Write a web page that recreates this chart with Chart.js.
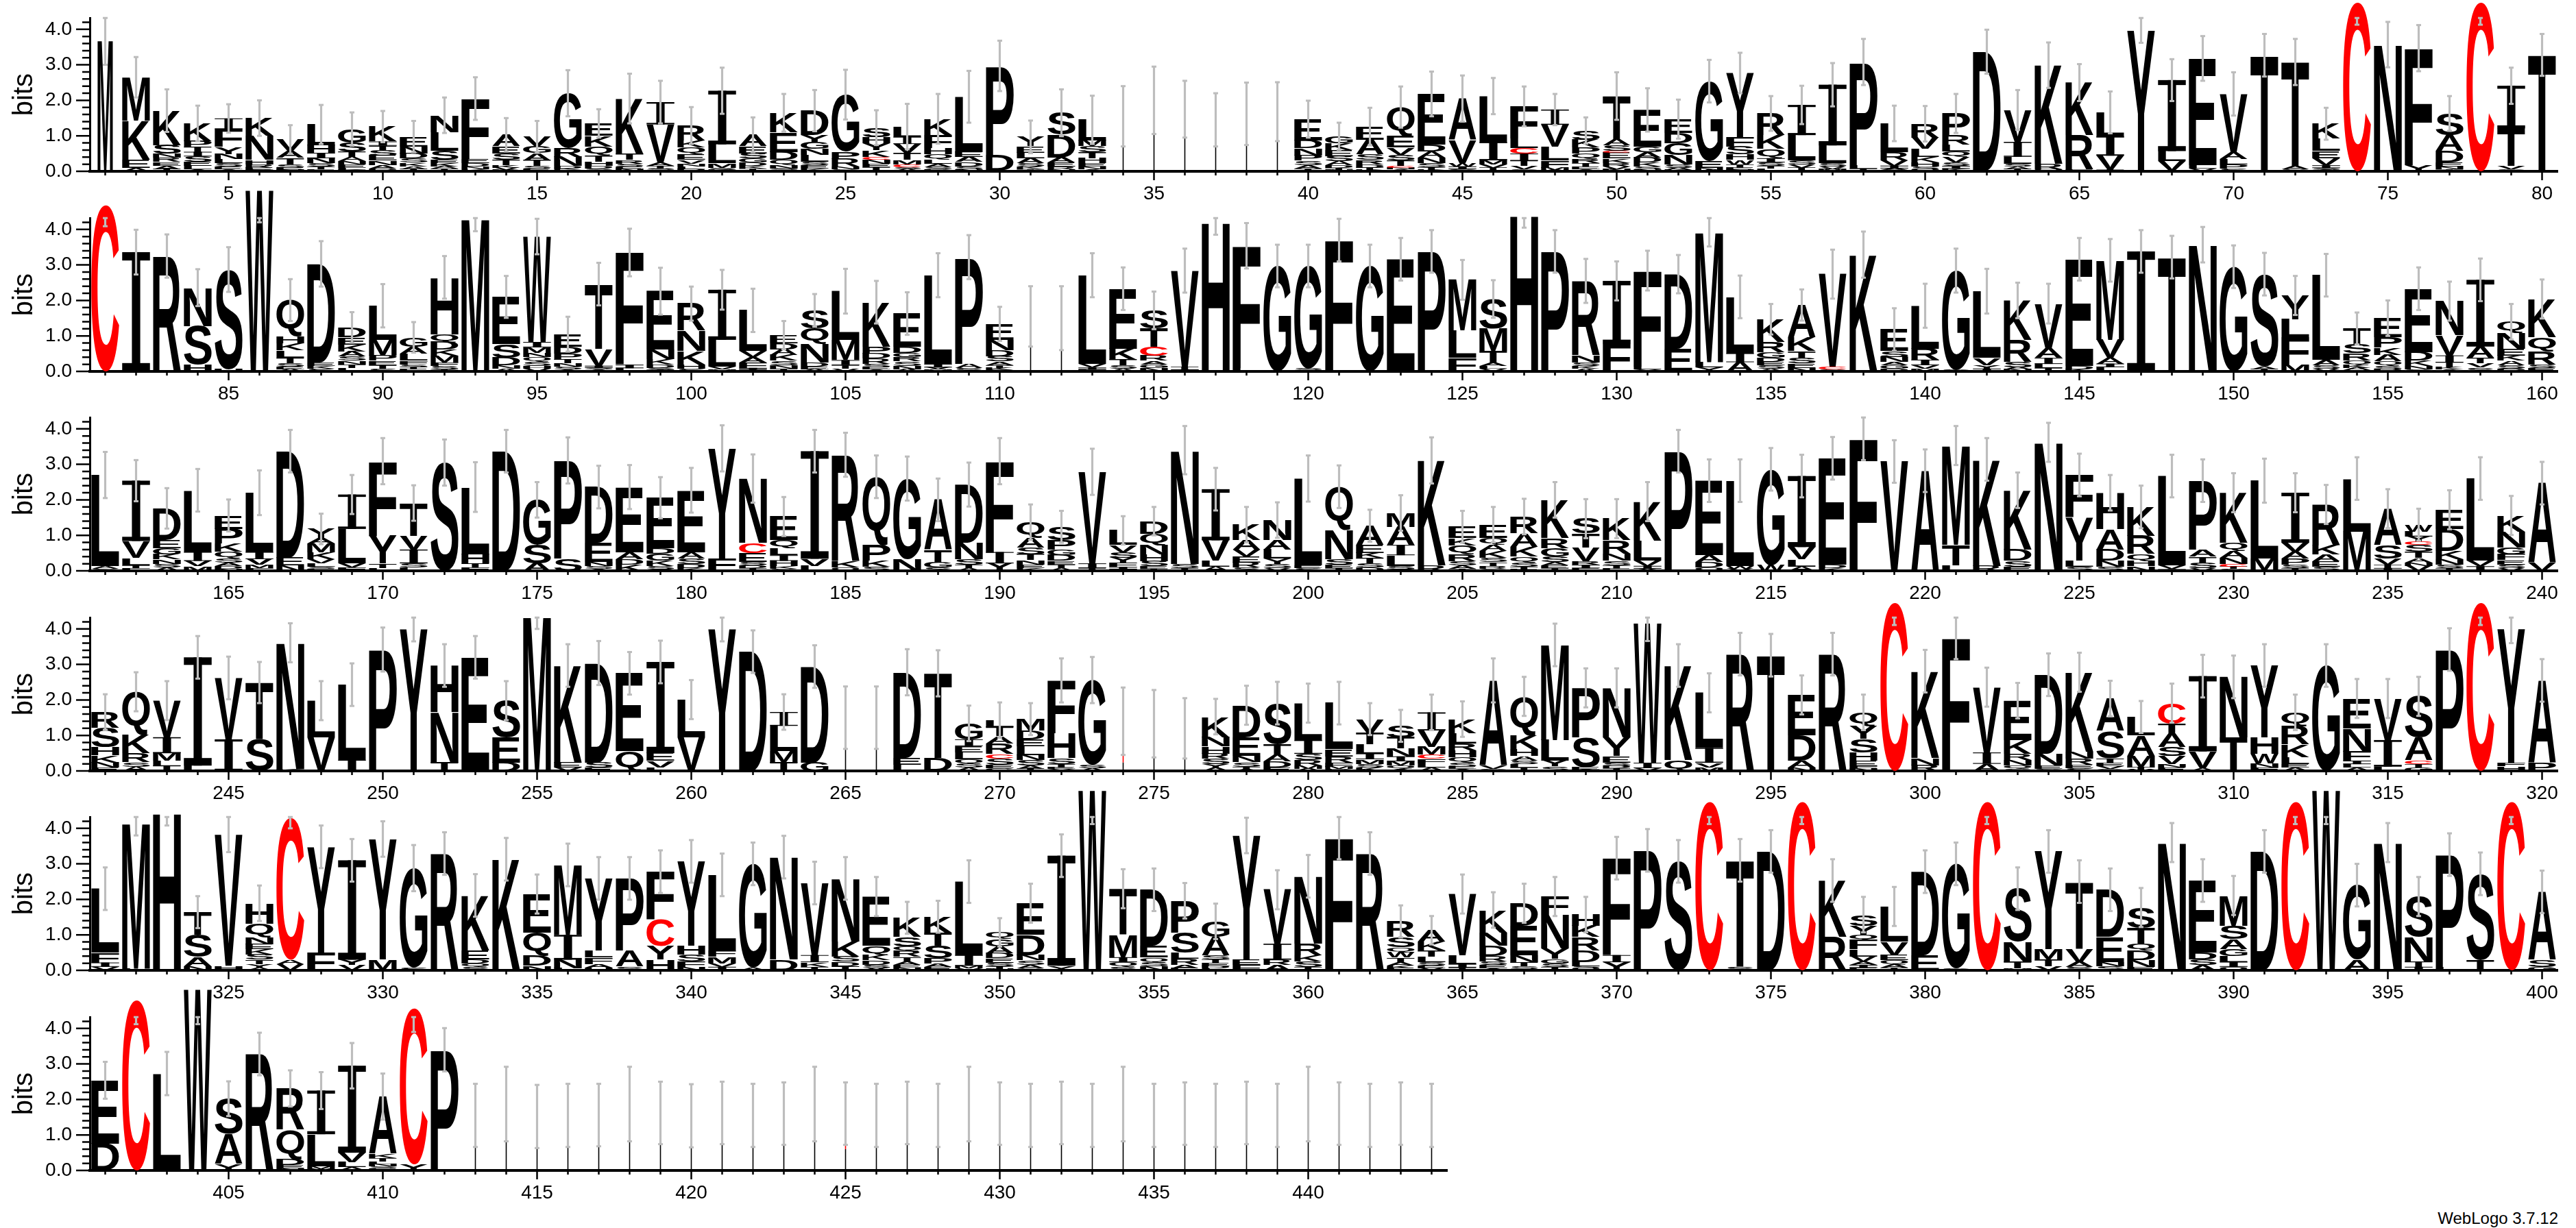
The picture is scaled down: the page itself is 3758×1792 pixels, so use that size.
<!DOCTYPE html>
<html>
<head>
<meta charset="utf-8">
<script src="https://cdn.jsdelivr.net/npm/chart.js@4.4.1/dist/chart.umd.min.js"></script>
<style>
  body { margin: 0; background: #fff; width: 3758px; height: 1792px; position: relative; overflow: hidden; }
  canvas { position: absolute; left: 0; }
  #credit { position: absolute; right: 26px; top: 1764px; font: 24px "Liberation Sans", Arial, sans-serif; color: #000; }
</style>
</head>
<body>
<div id="credit">WebLogo 3.7.12</div>
<script>
// each stack: letters listed top -> bottom, letter followed by its height in bits
const rowStarts = [1, 81, 161, 241, 321, 401];
const yMax = 4.32;
const yMajorTicks = [0, 1, 2, 3, 4];
const yMinorTicks = [0.2, 0.4, 0.6, 0.8, 1.2, 1.4, 1.6, 1.8, 2.2, 2.4, 2.6, 2.8, 3.2, 3.4, 3.6, 3.8, 4.2];
const letterColors = { C: '#ff0000' };
// columns drawn narrower (mostly gaps in the alignment)
const colWidth = {
  1: 0.55, 34: 0.06, 35: 0.06, 36: 0.06, 37: 0.06, 38: 0.06, 39: 0.06,
  111: 0.06, 112: 0.06, 265: 0.06, 266: 0.06, 274: 0.06, 275: 0.06, 276: 0.06,
  413: 0.06, 414: 0.06, 415: 0.06, 416: 0.06, 417: 0.06, 418: 0.06, 419: 0.06, 420: 0.06,
  421: 0.06, 422: 0.06, 423: 0.06, 424: 0.06, 425: 0.06, 426: 0.06, 427: 0.06, 428: 0.06,
  429: 0.06, 430: 0.06, 431: 0.06, 432: 0.06, 433: 0.06, 434: 0.06, 435: 0.06, 436: 0.06,
  437: 0.06, 438: 0.06, 439: 0.06, 440: 0.06, 441: 0.06, 442: 0.06, 443: 0.06, 444: 0.06
};

const row1Stacks = [
  "M3.7", "M1.23K1.1E.22A.1", "K.97S.24N.12R.12E.1A.1T.06", "K.5P.16T.14I.13S.15E.12L.1A.05", "I.3F.5Y.2N.14L.12S.1E.08A.05", "K.5N.68H.12R.1E.06S.04", "V.32A.2T.18S.1E.06N.04", "L.58H.22I.15N.14S.1T.08E.05", "G.39S.25T.14A.12N.1E.1L.05K.04", "K.42I.12T.12S.15E.15N.12A.1D.08",
  "E.28N.2D.14S.12K.1A.08T.06", "N.48L.52S.25E.1K.09A.07T.07", "F1.7E.12D.1N.08K.05", "A.32E.2S.18T.15K.08V.06D.04", "V.26G.2A.2T.16S.08E.05N.02", "G1.55R.24N.26D.08K.04S.03", "E.35K.3Q.25T.18H.12D.08S.05A.02", "K1.57T.16R.1S.08E.08N.06", "I.63V1.06A.1T.08S.05L.03", "R.42K.2Q.2E.15V.1N.08L.08D.06",
  "I1.51L.53M.13S.06K.04", "A.32E.2S.14G.12D.1K.08T.05R.02", "K.55E.55D.22Q.15N.1S.05R.03", "D.68Y.2G.2N.16L.2S.1E.1K.07", "G1.61P.2R.22N.08S.05", "S.26H.18Y.2K.18C.08N.12E.1T.08D.03", "L.29I.2V.25T.2M.12C.08S.06A.06", "K.45F.38H.16Q.16L.12A.1S.06D.05", "L1.55E.15A.14D.13S.08N.05", "P2.5D.45E.02",
  "Y.26E.18L.16A.14S.1K.08T.05", "S.62D.64A.14E.12R.08N.05", "L.58M.16S.18T.16H.14E.1N.08A.05", "L1.55", "L2.0", "L1.75", "L1.45", "L1.62", "L1.68", "E.6D.22N.2P.15S.12A.1T.08",
  "G.2K.2E.16S.14A.12D.08T.05N.04", "E.37A.42S.15R.12D.1T.06K.04", "Q.82E.32V.2S.16T.15C.06N.05A.05", "E1.42D.2A.17N.15S.12T.08K.04", "A1.16V.65W.1I.08S.06", "L1.29I.52M.12V.1T.06F.03", "F.91L.26C.16I.2T.14V.1S.06", "I.43V.62L.39F.2M.06A.04", "S.26K.22P.16Q.15R.13T.1E.08A.05", "T1.23A.16S.15C.06E.16K.12R.1V.08N.06",
  "E1.03G.16A.15D.14K.12S.08N.05", "E.39D.29G.33N.26S.1A.06K.04", "G2.25E.2N.05W.04", "Y1.82F.26S.22H.15W.12T.1E.06N.04", "R.61K.39Q.26I.12S.1T.08L.07", "I.85L.71S.12V.1T.06A.03", "I1.71L.49S.1V.08M.06", "P2.9L.1T.08", "L.81R.23V.15I.08A.05S.03", "R.39V.32L.22K.15H.12S.08Q.06",
  "P.61R.26L.2Q.16V.15S.1I.08K.07", "D3.35E.02", "V.9I.42L.2S.08A.07T.06", "K2.78R.15Q.06", "K1.48R.97E.05", "L.67I.55V.39T.05", "Y3.97", "I2.0L.29V.26A.02", "E3.0L.1V.08", "V1.64A.2L.14P.13S.07",
  "T3.25A.02", "T2.93A.1S.05", "K.42L.35E.2V.2I.08S.05A.04", "C4.76", "N3.57", "F3.3Y.17", "S.61A.45D.32E.12N.08T.05", "C4.76", "I1.2T1.06V.1S.05", "T3.28"
];
const row1Err = [
  .7, .57, .6, .5, .4, .5, .4, .55, .47, .44,
  .44, .5, .6, .47, .45, .65, .4, .7, .6, .52,
  .65, .49, .53, .58, .7, .49, .64, .7, .73, .71,
  .46, .66, .68, .85, .95, .8, .75, .88, .83, .52,
  .38, .53, .58, .63, .65, .51, .56, .44, .37, .67,
  .61, .55, .6, .57, .49, .54, .61, .65, .5, .5,
  .55, .62, .56, .64, .52, .59, .35, .59, .63, .61,
  .6, .65, .45, .63, .64, .65, .49, .63, .51, .59
];

const row2Stacks = [
  "C4.69", "I3.36", "R3.25", "N1.08S1.09H.19", "S2.81H.06", "W5.1", "Q1.02H.2K.2L.2T.15S.1E.08A.06", "D2.77E.1K.08S.08", "D.28E.2K.2A.14S.12N.1T.1L.1", "L.96M.44P.15E.12T.1S.08",
  "G.26A.2L.2F.1S.08T.06E.06", "H1.6Q.22D.22K.16M.2F.1S.1T.05", "M4.3", "E1.33S.38D.22N.1A.07", "W2.97I.15M.15N.13Q.12S.12H.08V.08", "E.35D.2P.15T.12N.1S.08A.05", "T1.82V.48I.06S.05A.05", "F3.16I.1L.09", "E1.65N.26K.15D.1S.06T.04", "R.76N.58K.38H.12S.07",
  "I1.41L.76V.08M.05", "L1.15V.17A.15F.15I.05T.05", "E.22D.18A.16K.16S.12N.1T.08", "S.51Q.44N.51D.12E.08A.06", "L1.37M.57I.14T.1V.08", "K1.25P.19D.15R.15S.1E.06A.05", "E.93D.18G.12R.12S.12N.1A.06", "L2.5I.1V.06M.05", "P3.0A.12S.1", "E.45N.29D.18S.14A.1T.08K.06G.04",
  "L1.55", "L1.5", "L2.5V.1I.06F.05", "E1.69K.31T.16S.1A.07", "S.51T.51C.26R.14A.1G.1N.1", "V2.7T.08I.06", "H4.2", "F3.45L.09", "G2.97", "G2.9S.04A.03",
  "F3.7", "G2.97", "E3.16", "P3.38", "M1.43L.77F.38", "S.83M.64T.32A.1L.08V.07", "H4.4", "P3.38", "R2.1N.2S.1K.08A.07", "I1.78F.77",
  "F2.7L.09Y.05", "D2.1E.64", "M3.66L.14Y.12", "L1.59I.25A.26", "K.64R.29G.15D.12E.1S.1A.07", "A.91K.39T.2S.15E.12N.1", "V2.61C.08S.05", "K3.29", "E.61S.16N.14A.1G.1D.07", "L1.21R.31I.15V.1M.08",
  "G2.8S.04", "L1.88V.2Y.1I.08", "K1.11R.63S.14A.06N.06", "V1.27A.26I.17L.11T.1", "E3.0D.1K.06", "M2.24V.51A.16I.1L.12", "I3.38", "T3.22", "N3.57", "G2.95",
  "S2.6A.08T.06", "Y.67L.51F.77M.19", "L2.39A.14S.1V.08", "T.44S.26R.2Q.12K.1A.06E.03", "E.54P.29K.2A.19Q.12S.1D.06", "E1.79D.24K.15N.1S.05", "N.96V.57I.2T.14K.06A.05", "I1.88A.32T.15V.12S.11", "Q.32N.44E.2K.14A.12S.1D.08", "K1.08Q.39R.38S.1E.09"
];
const row2Err = [
  .6, .63, .61, .52, .63, .9, .59, .64, .43, .61,
  .43, .6, .35, .59, .5, .49, .6, .67, .66, .48,
  .56, .61, .4, .46, .63, .6, .6, .62, .62, .48,
  .85, .9, .62, .6, .53, .62, .35, .64, .6, .6,
  .6, .6, .6, .6, .56, .53, .35, .6, .62, .55,
  .56, .54, .4, .6, .43, .44, .69, .65, .6, .62,
  .62, .63, .5, .56, .6, .6, .6, .6, .5, .6,
  .6, .55, .6, .45, .5, .6, .55, .6, .5, .55
];

const row3Stacks = [
  "L2.57A.08S.05", "I1.7V.48L.2T.08F.08", "D.9E.22G.18K.14N.12S.1A.1", "L1.74I.25V.15M.13", "E.38P.41K.22Q.2S.12A.1D.08N.05", "L1.67I.2V.16M.1F.07", "D3.0E.22N.15", "Y.26A.14M.25K.2V.12L.1S.06E.05", "I.97L.97V.12F.09", "F2.1Y.78T.13L.08",
  "T.92V.39I.39S.12L.09", "S3.05", "L1.89H.26T.12F.09", "D3.37", "G1.27S.52A.21", "P2.77S.34", "D1.57E.53N.13S.08A.05", "E1.83A.2D.15K.18", "E1.43D.15G.2K.14S.1A.04", "E1.74A.18S.15D.12K.08",
  "Y3.1F.35", "N1.81C.29E.24S.1D.08T.08", "E.67Q.22L.2I.16H.14K.08S.06", "I3.03V.2L.14", "R3.0K.17Q.1", "Q1.92P.45K.16S.12", "G2.27N.33", "A1.42T.34G.14S.1", "D1.64N.46S.15T.1A.08", "F2.56I.32Y.21",
  "Q.45A.26S.2T.16N.12E.1K.08", "S.38P.26G.16D.16E.1T.1A.08", "V2.58I.13T.08", "L.41V.2S.16Y.14F.12I.07A.04", "D.35Q.32N.26H.2S.14E.08T.05", "N3.2S.12T.08", "I1.44V.58L.16A.12", "K.44A.26V.2E.16R.14S.1", "N.57A.26L.26Y.14S.12V.08", "L2.45E.08S.07",
  "Q1.23N.82S.14E.1T.08", "A.54E.23K.14T.14S.12D.1", "M.39A.51I.29L.3S.1T.04", "K2.96R.15", "E.32K.2Q.25R.2S.12A.1T.05", "E.38Q.2A.16K.2S.12T.1R.08G.06", "R.48A.38K.26Q.17S.12T.08E.04", "K1.08R.28G.23S.16A.1E.08T.07", "S.42T.39V.39R.1I.1E.07", "K.61R.38N.2S.12T.1E.06",
  "K1.1L.56V.15I.08Y.06", "P3.37", "E2.1A.2D.14Q.1", "L2.4W.08V.06", "G2.7W.16", "I2.0V.35L.2A.12", "E3.0D.1K.07", "F3.72", "V3.08", "A2.82",
  "M2.8T.58L.15", "K3.0R.14", "K1.67D.32S.16E.12", "N3.62", "F1.2Y1.22L.16S.12", "H1.02A.58D.32N.16S.12", "K.82R.51Q.2H.14N.13", "L2.52V.1I.05", "P1.94A.2T.18S.14V.08", "K1.41Q.23A.2N.16C.08T.07S.05",
  "L2.2M.34", "I1.41V.25A.2P.16S.1T.08", "R1.14K.26A.2E.15S.12", "L1.49M1.11", "A1.02S.39V.16T.1I.08", "W.19L.14Y.14C.09S.2T.18A.12N.1V.14", "E.55D.61K.23N.15S.1T.08", "L2.32V.15I.13", "K.45N.45G.2F.16E.12S.1V.08", "A2.26V.21"
];
const row3Err = [
  .65, .58, .57, .6, .45, .63, .6, .43, .55, .65,
  .5, .65, .7, .6, .5, .65, .6, .62, .58, .63,
  .65, .68, .55, .6, .62, .6, .62, .6, .62, .65,
  .5, .45, .65, .4, .4, .68, .6, .5, .5, .65,
  .6, .45, .5, .65, .45, .5, .5, .5, .55, .55,
  .55, .6, .6, .6, .6, .6, .6, .6, .6, .6,
  .55, .6, .5, .55, .6, .5, .6, .6, .6, .55,
  .62, .55, .55, .6, .55, .45, .55, .6, .55, .6
];

const row4Stacks = [
  "R.45S.55H.22K.2N.14E.1", "Q1.22K.51R.25S.13A.12", "V1.03I.45M.22L.14T.14", "I3.05L.15", "V1.73I.89", "T1.6S.89", "N3.56K.05", "L1.03V.95", "L2.12I.31", "P3.42",
  "Y4.0", "H1.31N1.42T.24", "E3.2", "S1.03E.71D.24", "M4.35", "K2.73E.14V.1", "D2.8S.14E.1", "E2.19Q.56", "I2.57E.22V.18L.1", "L1.06V.95",
  "Y4.0", "D3.36", "I.39L.71M.32T.24", "D2.7G.24", "L1.5", "L1.5", "D2.41E.2L.17", "T2.38D.37", "G.45I.19E.17L.2Q.12S.12A.09", "L.19T.26A.2R.3C.13S.18E.1G.07",
  "M.32D.25E.2L.25N.14S.14A.1T.06", "F1.49H.7S.16T.1E.05Y.05", "G2.38S.1A.08", "L.9C.26S.24", "L1.33", "L1.2", "K.58N.26H.2R.15S.14Y.1A.1", "D.9E.52N.18S.13T.08A.04", "S1.15T.3A.2D.16E.1", "L1.04I.39S.18R.14M.1A.06",
  "L1.3E.2R.18F.12M.06D.05", "V.39T.32L.26I.16M.13S.1K.1", "S.32T.32N.22I.14M.12Q.1A.05", "I.51V.46M.22C.12F.12L.12A.1", "K.39L.29R.2H.19Q.15S.12E.07A.05", "A2.39V.1S.06", "Q1.1K.39H.19A.13S.1L.1T.09", "M2.68L.58Y.16S.13", "P1.4S.84E.06A.04", "N1.4Y.52E.18S.1D.07T.07",
  "W3.93I.15V.08", "K2.67Q.3", "L1.55I.42V.13M.1", "R3.29", "T3.26", "E1.14D.71A.2N.09", "R3.29", "Q.39Y.36S.39H.23E.14F.08N.06", "C4.74", "K2.45N.2R.16",
  "F3.75", "V1.84I.32A.2", "E1.11K.39R.18N.14Q.1S.06", "D2.23N.32E.1S.06", "K2.23N.2R.18E.1S.07", "A.91S.77T.12E.1V.08G.06", "L.52A.58M.32T.06V.04", "C.58T.26A.39S.26V.22N.1E.1", "I2.12V.48A.07", "N1.71T.94",
  "Y2.03H.46W.26N.12F.1", "Q.39R.52K.35L.2E.1A.09", "G2.97", "E.84N.65F.26I.1L.1A.09", "V1.17I.75L.12", "S1.16A.64C.1T.1G.1", "P3.42", "C4.74", "Y3.77F.1H.13", "A2.32P.23"
];
const row4Err = [
  .5, .55, .55, .6, .6, .58, .55, .55, .6, .62,
  .35, .6, .6, .55, .35, .6, .62, .6, .6, .55,
  .35, .6, .5, .6, .88, .88, .65, .65, .5, .5,
  .45, .62, .65, .95, .95, .85, .5, .55, .6, .55,
  .6, .45, .45, .5, .5, .62, .55, .6, .55, .55,
  .5, .6, .55, .6, .6, .55, .6, .5, .63, .6,
  .6, .55, .5, .6, .55, .5, .45, .55, .6, .6,
  .6, .5, .6, .55, .55, .55, .6, .63, .4, .6
];

const row5Stacks = [
  "L1.8F.28I.12V.1", "M4.1L.05", "H4.43", "T.64S.63A.25N.12", "V3.7H.13", "H.57Q.38N.2E.15K.15S.14T.12Y.1A.08", "C4.0A.12V.18", "Y2.98F.5", "I2.8Y.15V.15", "Y3.4M.3",
  "G2.8S.08", "R3.29", "K1.55E.25D.12Q.1S.09", "K3.13", "E1.08Q.64D.3N.13", "M1.97I.7N.24L.06", "Y2.03L.2F.18A.1H.08", "P2.03A.45S.11", "F1.33C.76Y.39H.3", "Y2.38H.25S.2F.14N.1",
  "L2.13F.18M.18V.1I.1", "G2.92A.08", "N2.89D.3", "V2.03I.2K.13T.1", "N1.78K.42S.15D.12T.12", "E1.39Q.26K.15D.12S.1A.06", "K.54S.26Q.14R.16T.12A.1E.08N.08", "K.44T.38S.35P.14A.1E.1", "L2.07I.3M.08V.05", "Q.19G.2A.2D.14E.12S.1T.08N.04",
  "E.89D.57N.15S.12A.1G.06", "I3.1Y.13", "W5.07", "T1.3M.63I.14Q.13S.1", "D1.58E.32Q.14S.12N.11", "P.89S.57L.18R.16A.1E.06", "G.44A.51S.12T.1E.1D.06L.05", "Y3.5E.15F.15", "V1.52I.45R.15A.15", "N1.9R.32K.18S.15T.1",
  "F3.73", "R3.29", "R.44S.29Q.14W.15T.12A.1K.08E.06", "A.32K.25T.18L.14S.1E.08V.06", "V1.72L.25I.1T.08", "K.63N.38D.29R.15S.1E.1A.05", "D.63E.83N.2T.12S.07Q.04", "F.51N.95Y.3G.12S.1T.1", "H.31K.32R.38D.32L.12S.07Q.05", "F2.73I.2Y.23",
  "P3.38", "S3.07", "C4.75", "T3.0S.1", "D3.35", "C4.75", "K1.59R.94", "S.31Y.25Q.16F.26L.2V.14A.1I.08E.07", "L.99V.38E.14Q.12A.1T.07", "D2.35E.43",
  "G2.95S.05", "C4.75", "S1.49N.57T.19M.05", "Y2.76M.29T.19V.11", "T1.88V.38A.14S.1", "D1.33E.7N.12S.12", "S.58T.44Q.2D.26N.2E.09", "N3.6", "E2.03D.2S.15A.15", "M.85S.38A.28G.2L.16I.14Q.1",
  "D3.35", "C4.75", "W5.07", "G2.1A.3", "N3.6", "S1.14N.7T.14I.1", "P3.16L.1", "S2.42T.3", "C4.75", "A1.91S.2G.1"
];
const row5Err = [
  .6, .35, .35, .45, .5, .5, .3, .6, .6, .5,
  .65, .6, .6, .6, .55, .6, .6, .6, .6, .6,
  .6, .6, .6, .6, .6, .55, .45, .45, .6, .4,
  .55, .6, .95, .55, .6, .5, .5, .5, .55, .6,
  .6, .6, .45, .4, .55, .5, .55, .55, .5, .6,
  .6, .6, .63, .6, .6, .63, .6, .5, .55, .6,
  .6, .63, .6, .6, .6, .6, .55, .55, .6, .55,
  .6, .63, .95, .6, .55, .55, .6, .6, .63, .6
];

const row6Stacks = [
  "E1.78D.76", "C4.8", "L2.73", "W5.1", "S1.0A.84Y.18", "R3.28", "R1.16Q.84D.16E.1N.05", "I1.23L.9M.08V.04", "I2.45V.26L.14A.1", "A1.61K.12T.1L.08N.06S.06E.05",
  "C4.4Y.17", "P3.4", "L1.55", "L1.87", "L1.52", "L1.55", "L1.56", "L1.87", "L1.62", "L1.54",
  "L1.62", "L1.55", "L1.6", "L1.87", "L.9C.1S.6", "L1.55", "L1.62", "L1.55", "L1.87", "L1.6",
  "L1.55", "L1.62", "L1.55", "L1.87", "L1.55", "L1.6", "L1.55", "L1.62", "L1.55", "L1.87",
  "L1.6", "L1.55", "L1.6", "L1.55"
];
const row6Err = [
  .52, .68, .61, .98, .49, .6, .51, .52, .64, .65,
  .67, .61, .89, 1.05, .89, .89, .88, 1.05, .88, .89,
  .88, .89, .88, 1.05, .88, .89, .88, .89, 1.05, .88,
  .89, .88, .89, 1.05, .89, .88, .89, .88, .89, 1.05,
  .88, .89, .88, .89
];

const FONT = '"Liberation Sans", Arial, sans-serif';
const GLYPH_FONT = 'bold 200px "Liberation Sans", Arial, sans-serif';
const BIT_PX = 51.8;      // pixels per bit
const ZERO_Y = 300;       // baseline inside each row canvas
const COL_W = 45;         // pixels per position

function parseStack(s) {
  const out = [];
  s.replace(/([A-Z])(\d*\.?\d+)/g, (m, ch, h) => { out.push({ ch, h: parseFloat(h) }); return m; });
  return out.reverse(); // bottom first
}

const metricsCache = {};
function drawGlyph(ctx, ch, left, top, w, h, color) {
  if (h < 0.3) return;
  ctx.save();
  ctx.fillStyle = color;
  if (w < 4) {
    // nearly-empty column: the squeezed letter reads as a hairline
    ctx.fillRect(left + w / 2 - 0.8, top, 1.6, h);
  } else if (ch === 'I') {
    // logo "I" has full-width serifs
    const bar = Math.max(1, h * 0.07);
    const stem = w * 0.3;
    ctx.fillRect(left, top, w, bar);
    ctx.fillRect(left, top + h - bar, w, bar);
    ctx.fillRect(left + (w - stem) / 2, top, stem, h);
  } else {
    ctx.font = GLYPH_FONT;
    ctx.textAlign = 'left';
    ctx.textBaseline = 'alphabetic';
    let m = metricsCache[ch];
    if (!m) {
      const t = ctx.measureText(ch);
      m = metricsCache[ch] = {
        l: t.actualBoundingBoxLeft, r: t.actualBoundingBoxRight,
        a: t.actualBoundingBoxAscent, d: t.actualBoundingBoxDescent
      };
    }
    ctx.translate(left, top);
    ctx.scale(w / (m.l + m.r), h / (m.a + m.d));
    ctx.fillText(ch, m.l, m.a);
  }
  ctx.restore();
}

function logoPlugin(row, totals) {
  return {
    id: 'logo' + row.start,
    beforeDatasetsDraw(chart) {
      const { ctx, scales: { x, y } } = chart;
      const band = x.getPixelForValue(1) - x.getPixelForValue(0);
      row.stacks.forEach((s, i) => {
        const pos = row.start + i;
        const w = band * 0.9 * (colWidth[pos] || 1);
        const cx = x.getPixelForValue(i);
        let cum = 0;
        parseStack(s).forEach(({ ch, h }) => {
          const yb = y.getPixelForValue(cum);
          const yt = y.getPixelForValue(cum + h);
          drawGlyph(ctx, ch, cx - w / 2, yt, w, yb - yt, letterColors[ch] || '#000');
          cum += h;
        });
      });
    },
    afterDatasetsDraw(chart) {
      const { ctx, scales: { x, y } } = chart;
      ctx.save();
      ctx.fillStyle = '#bdbdbd';
      row.err.forEach((e, i) => {
        const cx = x.getPixelForValue(i);
        const lo = totals[i] - e;
        const hi = Math.min(totals[i] + e, yMax);
        [lo, hi].forEach(v => {
          if (v <= yMax) ctx.fillRect(cx - 3.5, y.getPixelForValue(v) - 1.5, 7, 3);
        });
      });
      ctx.restore();
    },
    afterDraw(chart) {
      const { ctx, chartArea, scales: { x, y } } = chart;
      ctx.save();
      ctx.strokeStyle = '#000';
      ctx.lineWidth = 2.5;
      ctx.beginPath();
      yMajorTicks.forEach(v => {
        const py = y.getPixelForValue(v);
        ctx.moveTo(chartArea.left - 20, py); ctx.lineTo(chartArea.left, py);
      });
      yMinorTicks.forEach(v => {
        const py = y.getPixelForValue(v);
        ctx.moveTo(chartArea.left - 11, py); ctx.lineTo(chartArea.left, py);
      });
      row.stacks.forEach((s, i) => {
        const px = x.getPixelForValue(i);
        const len = (row.start + i) % 5 === 0 ? 13 : 6;
        ctx.moveTo(px, chartArea.bottom); ctx.lineTo(px, chartArea.bottom + len);
      });
      ctx.stroke();
      ctx.restore();
    }
  };
}

function buildRow(row, k) {
  const n = row.stacks.length;
  const canvas = document.createElement('canvas');
  canvas.width = 3758;
  canvas.height = 360;
  canvas.style.top = Math.round(250 + k * 291.5 - ZERO_Y) + 'px';
  document.body.appendChild(canvas);

  const labels = row.stacks.map((_, i) => String(row.start + i));
  const totals = row.stacks.map(s => parseStack(s).reduce((a, l) => a + l.h, 0));

  new Chart(canvas, {
    type: 'bar',
    data: {
      labels: labels,
      datasets: [{
        data: totals.map((t, i) => [t - row.err[i], t + row.err[i]]),
        backgroundColor: '#bdbdbd',
        barThickness: 2.5,
        borderWidth: 0,
        clip: 0
      }]
    },
    options: {
      responsive: false,
      animation: false,
      devicePixelRatio: 1,
      events: [],
      layout: {
        padding: { top: ZERO_Y - yMax * BIT_PX, right: 3758 - 131 - n * COL_W, bottom: 0, left: 0 }
      },
      plugins: {
        legend: { display: false },
        tooltip: { enabled: false }
      },
      scales: {
        x: {
          offset: true,
          grid: { display: true, drawOnChartArea: false, drawTicks: false },
          border: { display: true, color: '#000', width: 4 },
          ticks: {
            autoSkip: false,
            maxRotation: 0,
            minRotation: 0,
            padding: 16,
            color: '#000',
            font: { family: FONT, size: 28 },
            callback: (v, i) => (row.start + i) % 5 === 0 ? String(row.start + i) : ''
          },
          afterFit: s => { s.height = 60; }
        },
        y: {
          min: 0,
          max: yMax,
          afterBuildTicks: s => { s.ticks = yMajorTicks.map(v => ({ value: v })); },
          grid: { display: true, drawOnChartArea: false, drawTicks: false },
          border: { display: true, color: '#000', width: 3 },
          ticks: {
            padding: 26,
            color: '#000',
            font: { family: FONT, size: 28 },
            callback: v => Number(v).toFixed(1)
          },
          title: {
            display: true,
            text: 'bits',
            color: '#000',
            font: { family: FONT, size: 40 },
            padding: { top: 12, bottom: 0 }
          },
          afterFit: s => { s.width = 131; }
        }
      }
    },
    plugins: [logoPlugin(row, totals)]
  });
}

const rows = [
  { start: rowStarts[0], stacks: row1Stacks, err: row1Err },
  { start: rowStarts[1], stacks: row2Stacks, err: row2Err },
  { start: rowStarts[2], stacks: row3Stacks, err: row3Err },
  { start: rowStarts[3], stacks: row4Stacks, err: row4Err },
  { start: rowStarts[4], stacks: row5Stacks, err: row5Err },
  { start: rowStarts[5], stacks: row6Stacks, err: row6Err }
];
rows.forEach((r, k) => buildRow(r, k));
</script>
</body>
</html>
